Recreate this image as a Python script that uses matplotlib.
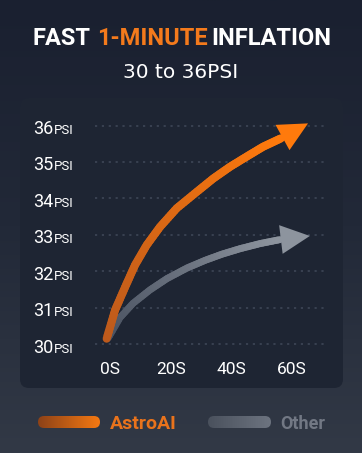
import matplotlib.pyplot as plt
import matplotlib.transforms as mtransforms
import numpy as np
from matplotlib.collections import LineCollection
from matplotlib.colors import LinearSegmentedColormap
from matplotlib.patches import FancyBboxPatch, FancyArrowPatch

plt.rcParams['font.family'] = ['Roboto', 'DejaVu Sans']

# axis ticks
time_ticks = [0, 20, 40, 60]
time_labels = ['0S', '20S', '40S', '60S']
psi_ticks = [30, 31, 32, 33, 34, 35, 36]

# AstroAI curve (seconds, psi), plus arrow tip
astro_t = [-1.1, 1.65, 4.95, 8.24, 12.1, 16.5, 22.0, 28.6, 34.1, 39.6, 45.1, 50.5, 56.4]
astro_psi = [30.15, 30.93, 31.56, 32.17, 32.72, 33.22, 33.73, 34.18, 34.55, 34.87, 35.15, 35.42, 35.65]
astro_tip = (65.3, 36.06)

# other pump
other_t = [-0.66, 3.3, 7.58, 13.19, 18.79, 25.39, 31.32, 36.93, 42.86, 49.46, 56.06]
other_psi = [30.16, 30.73, 31.12, 31.49, 31.80, 32.09, 32.30, 32.47, 32.62, 32.76, 32.87]
other_tip = (65.9, 32.97)

W, H = 362, 453
fig = plt.figure(figsize=(W / 100, H / 100), dpi=100)

# background in pixel coords
bg = fig.add_axes([0, 0, 1, 1])
bg.axis('off')
grad = np.linspace(0, 1, 256).reshape(-1, 1)
bg_cmap = LinearSegmentedColormap.from_list('bg', ['#1a2030', '#222938', '#323946'])
bg.imshow(grad, extent=[0, W, H, 0], cmap=bg_cmap, aspect='auto', zorder=0)
bg.add_patch(FancyBboxPatch((20, 98), 323, 290, boxstyle='round,pad=0,rounding_size=9',
                            fc='#1e2533', ec='none', zorder=1))


def bar_gradient(x0, x1, yc, h, c0, c1):
    box = FancyBboxPatch((x0, yc - h / 2), x1 - x0, h,
                         boxstyle='round,pad=0,rounding_size=%f' % (h / 2),
                         fc='none', ec='none', zorder=2)
    bg.add_patch(box)
    cm = LinearSegmentedColormap.from_list('b', [c0, c1])
    im = bg.imshow(np.linspace(0, 1, 128).reshape(1, -1), extent=[x0, x1, yc + h / 2, yc - h / 2],
                   cmap=cm, aspect='auto', zorder=3)
    im.set_clip_path(box)


bar_gradient(38, 100, 422, 12, '#8d4218', '#f57912')
bar_gradient(208, 271, 422, 12, '#4a515d', '#6d7480')
bg.set_xlim(0, W)
bg.set_ylim(H, 0)
bg.text(110, 429, 'AstroAI', color='#e9731c', fontsize=14, fontweight='bold', ha='left', va='baseline')
bg.text(280, 429, 'Other', color='#727884', fontsize=13, fontweight='bold', ha='left', va='baseline')

# title pieces
bg.text(32, 45, 'FAST', color='white', fontsize=17, fontweight='bold', ha='left', va='baseline')
bg.text(97, 45, '1-MINUTE', color='#f47a1c', fontsize=17, fontweight='bold', ha='left', va='baseline')
bg.text(211, 45, 'INFLATION', color='white', fontsize=17, fontweight='bold', ha='left', va='baseline')
bg.text(181, 78, '30 to 36PSI', color='white', fontsize=14.5, family='DejaVu Sans',
        ha='center', va='baseline')

# main axes: px 95..325 horizontally, 115..350 vertically
ax = fig.add_axes([95 / W, (H - 350) / H, 230 / W, 235 / H])
ax.set_facecolor('none')
ax.set_xlim(-4.95, 70.9)
ax.set_ylim(29.84, 36.29)
for s in ax.spines.values():
    s.set_visible(False)
ax.set_yticks(psi_ticks)
ax.set_yticklabels([])
ax.yaxis.grid(True, color='#3b4454', linestyle=(0, (1.2, 2.6)), linewidth=1.3)
ax.tick_params(length=0)
ax.set_xticks(time_ticks)
ax.set_xticklabels(time_labels, color='white', fontsize=12.5)
ax.tick_params(axis='x', pad=9)

# y labels on the background axes: x in background pixels, y from the chart's data
lab_tr = mtransforms.blended_transform_factory(bg.transData, ax.transData)
off = mtransforms.ScaledTranslation(0, -6 / 72, fig.dpi_scale_trans)
for v in psi_ticks:
    bg.text(53, v, str(v), transform=lab_tr + off, color='white', fontsize=13,
            ha='right', va='baseline', zorder=5)
    bg.text(54, v, 'PSI', transform=lab_tr + off, color='white', fontsize=9.5,
            ha='left', va='baseline', zorder=5)


def gradient_arrow(t, p, tip, c0, c1, lw, z):
    t = np.asarray(t, float)
    p = np.asarray(p, float)
    xs, ys = [t[0]], [p[0]]
    f = np.linspace(0, 1, 9)[1:]
    for i in range(len(t) - 1):
        xs.extend(t[i] + (t[i + 1] - t[i]) * f)
        ys.extend(p[i] + (p[i + 1] - p[i]) * f)
    pts = np.column_stack([xs, ys]).reshape(-1, 1, 2)
    segs = np.concatenate([pts[:-1], pts[1:]], axis=1)
    cm = LinearSegmentedColormap.from_list('a', [c0, c1])
    lc = LineCollection(segs, colors=cm(np.linspace(0, 1, len(segs))), linewidths=lw,
                        capstyle='round', joinstyle='round', zorder=z)
    ax.add_collection(lc)
    ax.add_patch(FancyArrowPatch((t[-1], p[-1]), tip, arrowstyle='-|>,head_length=21,head_width=10.4',
                                 mutation_scale=1, fc=c1, ec='none', lw=0, shrinkA=0, shrinkB=0, zorder=z))


gradient_arrow(other_t, other_psi, other_tip, '#4a5261', '#8d949e', 5.0, 3)
gradient_arrow(astro_t, astro_psi, astro_tip, '#bd5a1c', '#ff7a0c', 5.8, 4)

fig.savefig('out.png', dpi=100)
